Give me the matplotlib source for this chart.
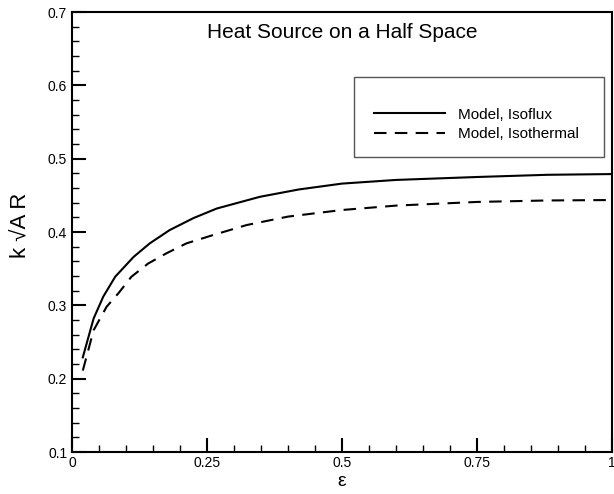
import matplotlib
matplotlib.use("Agg")
import matplotlib.pyplot as plt
from matplotlib.ticker import MultipleLocator
from matplotlib.patches import Rectangle
from matplotlib.lines import Line2D

plt.rcParams['font.family'] = ['Liberation Sans', 'DejaVu Sans']

eps_flux = [0.020, 0.040, 0.058, 0.080, 0.114, 0.144, 0.181, 0.225, 0.268, 0.348, 0.42, 0.50, 0.60, 0.75, 0.88, 1.00]
k_flux   = [0.229, 0.282, 0.312, 0.339, 0.366, 0.3845, 0.4027, 0.419, 0.432, 0.448, 0.458, 0.466, 0.471, 0.475, 0.478, 0.479]

eps_therm = [0.020, 0.040, 0.064, 0.086, 0.110, 0.141, 0.175, 0.212, 0.262, 0.3235, 0.40, 0.50, 0.60, 0.75, 0.88, 1.00]
k_therm   = [0.211, 0.266, 0.298, 0.3165, 0.339, 0.357, 0.371, 0.3845, 0.396, 0.4095, 0.421, 0.430, 0.436, 0.441, 0.443, 0.4436]

title = "Heat Source on a Half Space"
labels = ["Model, Isoflux", "Model, Isothermal"]

fig = plt.figure(figsize=(6.14, 4.94), dpi=100)
ax = fig.add_axes([72/614, (494-452)/494, 540/614, 440/494])

ax.plot(eps_flux, k_flux, color='black', lw=1.5, ls='-')
ax.plot(eps_therm, k_therm, color='black', lw=1.5, ls=(0, (6, 4)))

ax.set_xlim(0, 1)
ax.set_ylim(0.1, 0.7)
ax.xaxis.set_major_locator(MultipleLocator(0.25))
ax.xaxis.set_minor_locator(MultipleLocator(0.05))
ax.yaxis.set_major_locator(MultipleLocator(0.1))
ax.yaxis.set_minor_locator(MultipleLocator(0.02))
ax.set_xticks([0, 0.25, 0.5, 0.75, 1.0])
ax.set_xticklabels(["0", "0.25", "0.5", "0.75", "1"])
ax.set_yticks([0.1, 0.2, 0.3, 0.4, 0.5, 0.6, 0.7])
ax.set_yticklabels(["0.1", "0.2", "0.3", "0.4", "0.5", "0.6", "0.7"])
ax.tick_params(which='both', direction='in', top=False, right=False, labelsize=10, color='black')
ax.tick_params(which='major', length=10, width=1.5)
ax.tick_params(which='minor', length=5, width=1.0)
ax.tick_params(axis='x', pad=3)
for s in ax.spines.values():
    s.set_linewidth(1.5)
    s.set_color('black')

ax.set_xlabel("ε", fontsize=14, labelpad=2)
ax.set_ylabel("k √A R", fontsize=16, labelpad=8)
ax.yaxis.set_label_coords(-0.075, 0.515)

ax.text(0.5, (452-33)/440, title, transform=ax.transAxes, ha='center', va='center', fontsize=15)

x0 = (354-72)/540; x1 = (604-72)/540
y1 = (452-77)/440; y0 = (452-157)/440
ax.add_patch(Rectangle((x0, y0), x1-x0, y1-y0, transform=ax.transAxes, fill=False,
                       edgecolor='#555555', lw=1.0))
handles = [Line2D([], [], color='black', lw=1.5, ls='-'),
           Line2D([], [], color='black', lw=1.5, ls=(0, (6, 4)))]
ax.legend(handles, labels, loc='center left', bbox_to_anchor=((374-72)/540, (452-124.5)/440),
          frameon=False, fontsize=11, handlelength=4.65, handletextpad=0.85, labelspacing=0.35,
          borderpad=0, borderaxespad=0)

fig.savefig("out.png", dpi=100)
